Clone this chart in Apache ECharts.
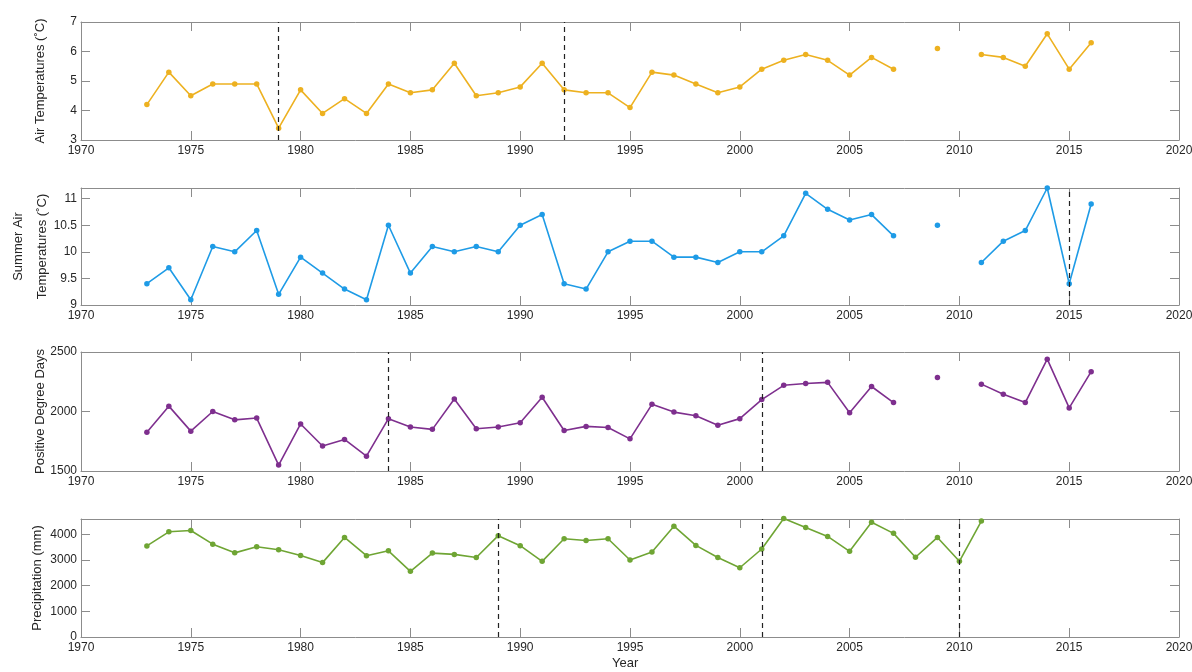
<!DOCTYPE html>
<html><head><meta charset="utf-8">
<script src="https://cdn.jsdelivr.net/npm/echarts@6/dist/echarts.min.js"></script>
<style>html,body{margin:0;padding:0;background:#fff}#c{width:1192px;height:672px}</style>
</head><body><div id="c"></div>
<script>
const years = [1973,1974,1975,1976,1977,1978,1979,1980,1981,1982,1983,1984,1985,1986,1987,1988,1989,1990,1991,1992,1993,1994,1995,1996,1997,1998,1999,2000,2001,2002,2003,2004,2005,2006,2007,2008,2009,2010,2011,2012,2013,2014,2015,2016];
const airTemp = [4.2,5.3,4.5,4.9,4.9,4.9,3.4,4.7,3.9,4.4,3.9,4.9,4.6,4.7,5.6,4.5,4.6,4.8,5.6,4.7,4.6,4.6,4.1,5.3,5.2,4.9,4.6,4.8,5.4,5.7,5.9,5.7,5.2,5.8,5.4,null,6.1,null,5.9,5.8,5.5,6.6,5.4,6.3];
const summerTemp = [9.4,9.7,9.1,10.1,10.0,10.4,9.2,9.9,9.6,9.3,9.1,10.5,9.6,10.1,10.0,10.1,10.0,10.5,10.7,9.4,9.3,10.0,10.2,10.2,9.9,9.9,9.8,10.0,10.0,10.3,11.1,10.8,10.6,10.7,10.3,null,10.5,null,9.8,10.2,10.4,11.2,9.4,10.9];
const pdd = [1825,2045,1835,2000,1930,1945,1550,1895,1710,1765,1625,1940,1870,1850,2105,1855,1870,1905,2120,1840,1875,1865,1770,2060,1995,1965,1885,1940,2100,2220,2235,2245,1990,2210,2075,null,2285,null,2230,2145,2075,2440,2030,2335];
const precip = [3550,4100,4150,3620,3280,3520,3400,3180,2900,3880,3170,3360,2560,3270,3220,3100,3950,3560,2950,3830,3760,3830,3000,3310,4320,3570,3100,2700,3430,4620,4270,3920,3340,4470,4040,3110,3880,2950,4520,null,null,null,null,null];
const breaks = [[1979,1992],[2015],[1984,2001],[1989,2001,2010]];
const yNames = ['Air Temperatures (˚C)','Summer Air\nTemperatures (˚C)','Positive Degree Days','Precipitation (mm)'];
const yMin = [3,9,1500,0], yMax = [7,11.2,2500,4600], yInt = [1,0.5,500,1000];
const colors = ['#EDB120','#1E9BE6','#7E2F8E','#6FA534'];
const seriesVals = [airTemp, summerTemp, pdd, precip];
const tops = [22,188,352,519], heights = [118,117,119,118];
const nameGaps = [31,27,31,34];
const nameLH = [20,24,20,20];

const font = 'Liberation Sans, Arial, Helvetica, sans-serif';
const axisCol = '#8c8c8c', txt = '#262626';
const grid=[], xAxis=[], yAxis=[], series=[];
for (let i=0;i<4;i++){
  grid.push({left:81,right:13,top:tops[i],height:heights[i],containLabel:false,outerBoundsMode:'none'});
  const baseX = {type:'value',gridIndex:i,min:1970,max:2020,interval:5,
    axisLine:{show:true,onZero:false,lineStyle:{color:axisCol,width:1}},
    axisTick:{show:true,inside:true,length:9,lineStyle:{color:axisCol}},
    splitLine:{show:false}};
  xAxis.push(Object.assign({},baseX,{position:'bottom',
    axisLabel:{show:true,margin:5,color:txt,fontSize:12,fontFamily:font,formatter:v=>String(v)}}));
  xAxis.push(Object.assign({},baseX,{position:'top',axisLabel:{show:false}}));
  const baseY = {type:'value',gridIndex:i,min:yMin[i],max:yMax[i],interval:yInt[i],
    axisLine:{show:true,onZero:false,lineStyle:{color:axisCol,width:1}},
    axisTick:{show:true,inside:true,length:9,lineStyle:{color:axisCol}},
    splitLine:{show:false}};
  yAxis.push(Object.assign({},baseY,{position:'left',name:yNames[i],nameLocation:'middle',nameGap:nameGaps[i],
    nameMoveOverlap:false,
    nameTextStyle:{color:txt,fontSize:13,fontFamily:font,lineHeight:nameLH[i]},
    axisLabel:{show:true,margin:4,color:txt,fontSize:12,fontFamily:font,showMaxLabel:(i===0||i===2),formatter:v=>String(v)}}));
  yAxis.push(Object.assign({},baseY,{position:'right',axisLabel:{show:false}}));
  const vals = seriesVals[i];
  series.push({type:'line',xAxisIndex:2*i,yAxisIndex:2*i,
    data: years.map((y,k)=>[y, vals[k]==null?'-':vals[k]]),
    connectNulls:false,symbol:'circle',symbolSize:5.5,showSymbol:true,
    lineStyle:{color:colors[i],width:1.6},itemStyle:{color:colors[i]},
    clip:false,
    markLine:{silent:true,symbol:['none','none'],label:{show:false},
      lineStyle:{color:'#222',type:[5,4],width:1.2},
      data:breaks[i].map(b=>({xAxis:b}))},
    animation:false});
}
const chart = echarts.init(document.getElementById('c'));
chart.setOption({animation:false,grid,xAxis,yAxis,series,
  graphic:[{type:'text',left:612,top:657,style:{text:'Year',fill:txt,font:'13px '+font}}]});
</script></body></html>
